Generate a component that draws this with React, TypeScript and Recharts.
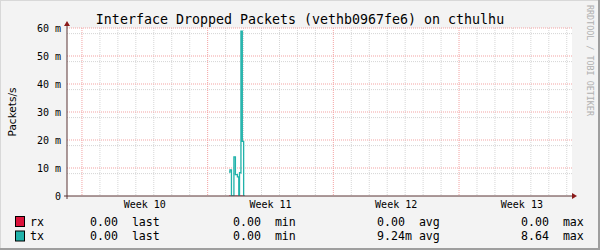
import React from 'react';
import { LineChart, Line, XAxis, YAxis, CartesianGrid, ReferenceDot } from 'recharts';

// time in hours since the start of Week 10
const hours = [196.5, 197.8, 199.8, 203.1, 205.1, 207.8, 209.6, 210.6, 212.5, 214.3, 216.1, 217.4];
const txValues = [0.0085, 0.0093, 0, 0.014, 0.0076, 0.0068, 0, 0.0083, 0.0589, 0.0195, 0, 0];
const rxValues = [0, 0, 0, 0, 0, 0, 0, 0, 0, 0, 0, 0];

const xDomain = [-20, 655];
const weekTicks = [84, 252, 420, 588];
const weekLabels = ['Week 10', 'Week 11', 'Week 12', 'Week 13'];
const weekLines = [0, 168, 336, 504];
const dayLines = [24, 48, 72, 96, 120, 144, 192, 216, 240, 264, 288, 312, 360, 384, 408, 432, 456, 480, 528, 552, 576, 600, 624, 648];
const yTicks = [0, 0.01, 0.02, 0.03, 0.04, 0.05, 0.06];
const yMinor = [0.002, 0.004, 0.006, 0.008, 0.012, 0.014, 0.016, 0.018, 0.022, 0.024, 0.026, 0.028, 0.032, 0.034, 0.036, 0.038, 0.042, 0.044, 0.046, 0.048, 0.052, 0.054, 0.056, 0.058];

const seriesNames = ['rx', 'tx'];
const seriesColors = ['#dc143c', '#20b2aa'];
const lastVals = ['0.00 ', '0.00 '];
const minVals = ['0.00 ', '0.00 '];
const avgVals = ['0.00 ', '9.24m'];
const maxVals = ['0.00 ', '8.64 '];

const data = hours.map((h, i) => ({ h, rx: rxValues[i], tx: txValues[i] }));

const AXIS = '#5b3535';
const ARROW = '#8b1a1a';
const MONO = '"DejaVu Sans Mono", monospace';

const fmtY = (v: number) => (v === 0 ? '0' : `${Math.round(v * 1000)} m`);
const fmtX = (v: number) => weekLabels[weekTicks.indexOf(v)] ?? '';

const UpArrow = (p: any) => (
  <g>
    <line x1={p.cx} y1={p.cy} x2={p.cx} y2={p.cy - 3} stroke={AXIS} strokeWidth={1} />
    <polygon points={`${p.cx - 3},${p.cy - 2} ${p.cx + 3},${p.cy - 2} ${p.cx},${p.cy - 7}`} fill={ARROW} />
  </g>
);
const RightArrow = (p: any) => (
  <g>
    <polygon points={`${p.cx},${p.cy - 3} ${p.cx},${p.cy + 3} ${p.cx + 5},${p.cy}`} fill={ARROW} />
  </g>
);
const Origin = (p: any) => (
  <g>
    <line x1={p.cx} y1={p.cy} x2={p.cx} y2={p.cy + 3} stroke={AXIS} strokeWidth={1} />
    <line x1={p.cx - 3} y1={p.cy} x2={p.cx} y2={p.cy} stroke={AXIS} strokeWidth={1} />
  </g>
);

const cols = [
  { x: 90, vals: lastVals, label: 'last' },
  { x: 233, vals: minVals, label: 'min' },
  { x: 377, vals: avgVals, label: 'avg' },
  { x: 521, vals: maxVals, label: 'max' },
];

export default function App() {
  return (
    <div
      style={{
        position: 'absolute',
        left: 0,
        top: 0,
        width: 600,
        height: 250,
        background: '#f3f3f3',
        boxShadow: 'inset -2px -2px 0 #9e9e9e, inset 1px 1px 0 #d8d8d8',
        overflow: 'hidden',
      }}
    >
      <div style={{ position: 'absolute', left: 0, top: 0 }}>
        <LineChart width={600} height={250} data={data} margin={{ top: 28, right: 28, bottom: 34, left: 7 }}>
          <CartesianGrid
            fill="#ffffff"
            stroke="#d6d6d6"
            strokeDasharray="1 1"
            horizontalValues={yMinor}
            verticalValues={dayLines}
          />
          <CartesianGrid
            stroke="#f3a3a3"
            strokeDasharray="1 1"
            horizontalValues={yTicks.slice(1)}
            verticalValues={weekLines}
          />
          <XAxis
            type="number"
            dataKey="h"
            domain={xDomain}
            ticks={weekTicks}
            tickFormatter={fmtX}
            allowDataOverflow
            height={20}
            tickLine={false}
            tickSize={0}
            tickMargin={5}
            axisLine={{ stroke: AXIS }}
            tick={{ fill: '#000', fontSize: 10, fontFamily: MONO }}
          />
          <YAxis
            type="number"
            domain={[0, 0.06]}
            ticks={yTicks}
            tickFormatter={fmtY}
            allowDataOverflow
            width={60}
            tickLine={false}
            tickSize={0}
            tickMargin={6}
            axisLine={{ stroke: AXIS }}
            tick={{ fill: '#000', fontSize: 10, fontFamily: MONO }}
          />
          <Line
            dataKey="rx"
            type="stepAfter"
            stroke={seriesColors[0]}
            strokeWidth={1}
            dot={false}
            isAnimationActive={false}
          />
          <Line
            dataKey="tx"
            type="stepAfter"
            stroke={seriesColors[1]}
            strokeWidth={1.3}
            dot={false}
            isAnimationActive={false}
          />
          <ReferenceDot x={xDomain[0]} y={0.06} ifOverflow="visible" shape={UpArrow} />
          <ReferenceDot x={xDomain[1]} y={0} ifOverflow="visible" shape={RightArrow} />
          <ReferenceDot x={xDomain[0]} y={0} ifOverflow="visible" shape={Origin} />
        </LineChart>
      </div>
      <svg width={600} height={250} style={{ position: 'absolute', left: 0, top: 0, pointerEvents: 'none' }}>
        <text x={300} y={23.5} textAnchor="middle" fontFamily={MONO} fontSize={13.3} fill="#000">
          Interface Dropped Packets (vethb0967fe6) on cthulhu
        </text>
        <text
          transform="translate(12,112) rotate(-90)"
          textAnchor="middle"
          dominantBaseline="central"
          fontFamily='"DejaVu Sans", sans-serif'
          fontSize={10.5}
          fill="#000"
        >
          Packets/s
        </text>
        <text
          transform="translate(590,5) rotate(90)"
          textAnchor="start"
          dominantBaseline="central"
          fontFamily={MONO}
          fontSize={8.4}
          fill="#b0b0b0"
        >
          RRDTOOL / TOBI OETIKER
        </text>
        {seriesNames.map((name, i) => {
          const cy = 221.5 + i * 14.5;
          return (
            <g key={name}>
              <rect x={15.5} y={cy - 5} width={9} height={10} fill={seriesColors[i]} stroke="#000" strokeWidth={1} />
              <text x={30} y={cy} dominantBaseline="central" fontFamily={MONO} fontSize={11.6} fill="#000">
                {name}
              </text>
              {cols.map((c) => (
                <text
                  key={c.label}
                  x={c.x}
                  y={cy}
                  dominantBaseline="central"
                  fontFamily={MONO}
                  fontSize={11.6}
                  fill="#000"
                  style={{ whiteSpace: 'pre' }}
                  xmlSpace="preserve"
                >
                  {`${c.vals[i]} ${c.label}`}
                </text>
              ))}
            </g>
          );
        })}
      </svg>
    </div>
  );
}
